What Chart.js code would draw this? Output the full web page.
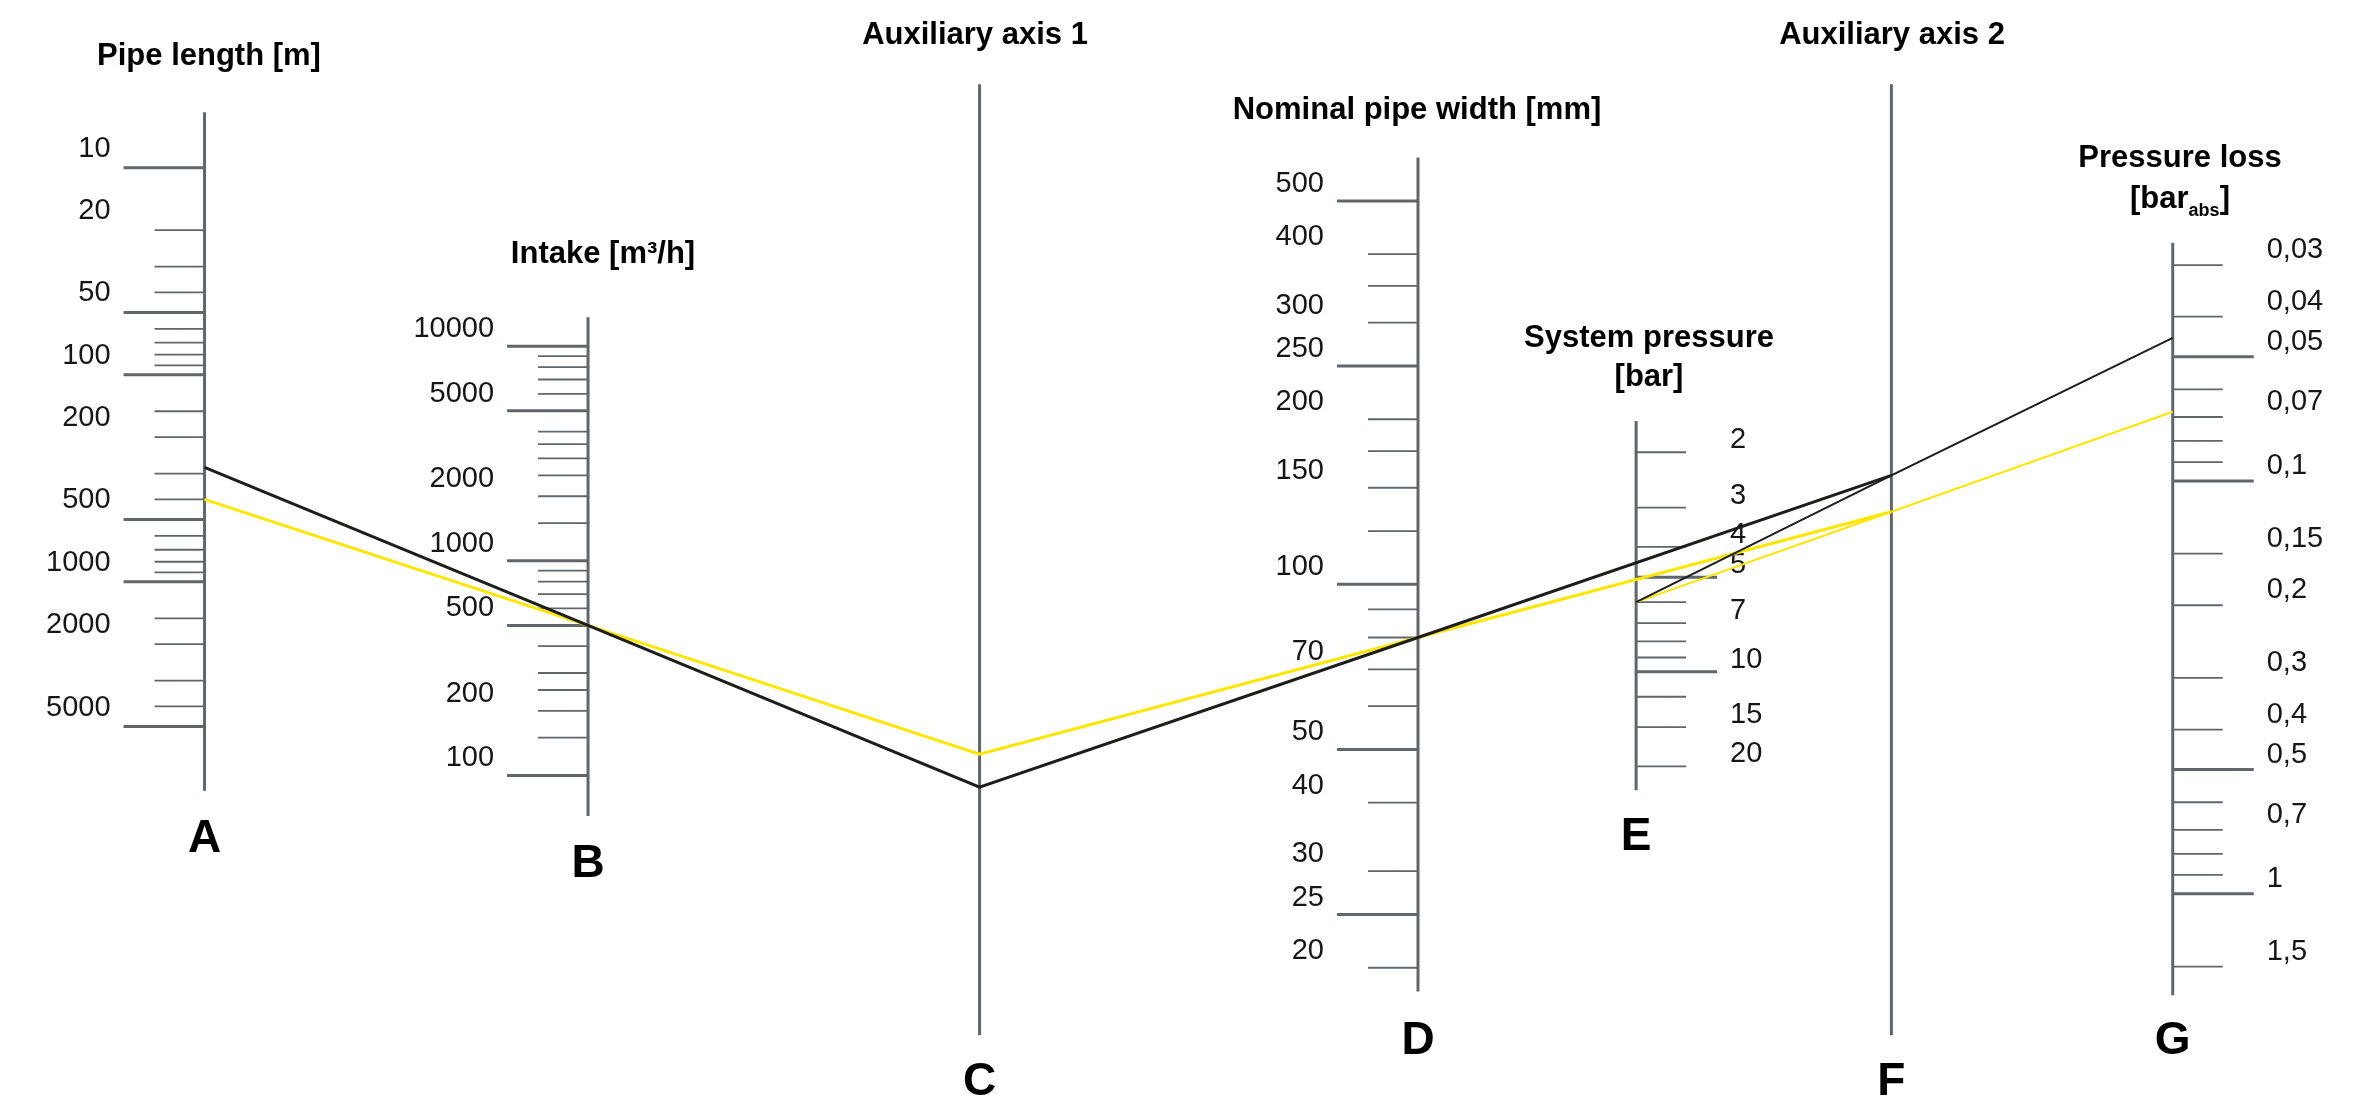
<!DOCTYPE html>
<html lang="en">
<head>
<meta charset="utf-8">
<title>Pipe sizing nomogram</title>
<script src="https://cdn.jsdelivr.net/npm/chart.js@4.4.1/dist/chart.umd.min.js"></script>
<style>
  html, body { margin: 0; padding: 0; background: #ffffff; }
  canvas { display: block; }
</style>
</head>
<body>
<canvas id="nomogram" width="2355" height="1105"></canvas>
<script>
// Nomogram for sizing a compressed air pipe. Every scale is a hidden Chart.js axis,
// the ticks and the two worked examples are all placed through those axes.

// ---- values ----

// A: pipe length [m]
const pipeLengthMajor = [10, 50, 100, 500, 1000, 5000];
const pipeLengthMinor = [20, 30, 40, 60, 70, 80, 90, 150, 200, 300, 400, 600, 700, 800, 900, 1500, 2000, 3000, 4000];
const pipeLengthLabels = [10, 20, 50, 100, 200, 500, 1000, 2000, 5000];

// B: intake [m3/h]
const intakeMajor = [100, 500, 1000, 5000, 10000];
const intakeMinor = [150, 200, 250, 300, 400, 600, 700, 800, 900, 1500, 2000, 2500, 3000, 3500, 4000, 6000, 7000, 8000, 9000];
const intakeLabels = [100, 200, 500, 1000, 2000, 5000, 10000];

// D: nominal pipe width [mm]
const widthMajor = [25, 50, 100, 250, 500];
const widthMinor = [20, 30, 40, 60, 70, 80, 90, 125, 150, 175, 200, 300, 350, 400];
const widthLabels = [20, 25, 30, 40, 50, 70, 100, 150, 200, 250, 300, 400, 500];

// E: system pressure [bar]
const pressureMajor = [5, 10];
const pressureMinor = [2, 3, 4, 6, 7, 8, 9, 12, 15, 20];
const pressureLabels = [2, 3, 4, 5, 7, 10, 15, 20];

// G: pressure loss [bar abs]
const lossMajor = [0.05, 0.1, 0.5, 1];
const lossMinor = [0.03, 0.04, 0.06, 0.07, 0.08, 0.09, 0.15, 0.2, 0.3, 0.4, 0.6, 0.7, 0.8, 0.9, 1.5];
const lossLabels = [0.03, 0.04, 0.05, 0.07, 0.1, 0.15, 0.2, 0.3, 0.4, 0.5, 0.7, 1, 1.5];

// worked examples, value where the line meets each axis
// (C and F carry no scale, their value is % of the drawing height from the top)
const mainRoute = ['A', 'B', 'C', 'D', 'F'];
const blackMain = [280, 500, 71.3, 80, 43.0];
const yellowMain = [400, 500, 68.3, 80, 46.3];

const pressureRoute = ['E', 'F', 'G'];
const blackPressure = [6, 43.0, 0.045];
const yellowPressure = [6, 46.3, 0.068];

const axisTitles = {
  A: ['Pipe length [m]'],
  B: ['Intake [m\u00b3/h]'],
  C: ['Auxiliary axis 1'],
  D: ['Nominal pipe width [mm]'],
  E: ['System pressure', '[bar]'],
  F: ['Auxiliary axis 2'],
  G: ['Pressure loss', '[bar_abs]']
};

const axisTicks = {
  A: { major: pipeLengthMajor, minor: pipeLengthMinor, labels: pipeLengthLabels },
  B: { major: intakeMajor, minor: intakeMinor, labels: intakeLabels },
  D: { major: widthMajor, minor: widthMinor, labels: widthLabels },
  E: { major: pressureMajor, minor: pressureMinor, labels: pressureLabels },
  G: { major: lossMajor, minor: lossMinor, labels: lossLabels }
};

// ---- layout ----

const W = 2355, H = 1105;
const AXIS_GREY = '#5f676c';
const TEXT = '#161616';
const LABEL_FONT = '29px "Liberation Sans", Arial, sans-serif';
const TITLE_FONT = 'bold 31px "Liberation Sans", Arial, sans-serif';
const SUB_FONT = 'bold 18px "Liberation Sans", Arial, sans-serif';
const LETTER_FONT = 'bold 46px "Liberation Sans", Arial, sans-serif';

// how each log scale sits on the sheet: one value, where it lands, px per decade
const scaleFit = {
  A: { anchor: 10, at: 166.7, perDecade: 207.6, reverse: true },
  B: { anchor: 10000, at: 345.7, perDecade: 215.15, reverse: false },
  D: { anchor: 500, at: 200, perDecade: 550, reverse: false },
  E: { anchor: 2, at: 452, perDecade: 315, reverse: true },
  G: { anchor: 0.03, at: 264.3, perDecade: 414, reverse: true }
};

const axisLayout = {
  A: { x: 203.3, side: -1, ends: [5.4, 10200], shift: -19, titleX: 209, titleY: [64.5], letterY: 851.5 },
  B: { x: 587.3, side: -1, ends: [13640, 64.7], shift: -17, titleX: 603, titleY: [262.5], letterY: 876.5 },
  C: { x: 979.3, side: 0, ends: [7.5, 93.8], titleX: 975, titleY: [43.5], letterY: 1094.5 },
  D: { x: 1418.3, side: -1, ends: [600, 18.1], shift: -17, titleX: 1417, titleY: [118.5], letterY: 1053.5 },
  E: { x: 1636.7, side: 1, ends: [1.59, 23.8], shift: -12, titleX: 1649, titleY: [346.5, 385.5], letterY: 850 },
  F: { x: 1892.3, side: 0, ends: [7.5, 93.8], titleX: 1892, titleY: [43.5], letterY: 1094.5 },
  G: { x: 2174, side: 1, ends: [0.0265, 1.76], shift: -15, titleX: 2180, titleY: [166.5, 207.5], letterY: 1053.5 }
};

const MAJOR_LEN = 81, MINOR_LEN = 50, LABEL_GAP = 94;

function logBounds(f) {
  const la = Math.log10(f.anchor);
  if (f.reverse) {
    const lmin = la - f.at / f.perDecade;
    return { min: Math.pow(10, lmin), max: Math.pow(10, lmin + H / f.perDecade) };
  }
  const lmax = la + f.at / f.perDecade;
  return { min: Math.pow(10, lmax - H / f.perDecade), max: Math.pow(10, lmax) };
}

const scales = {
  x: { type: 'linear', display: false, min: 0, max: W },
  // also used by the two auxiliary axes
  y: { type: 'linear', display: false, min: 0, max: 100, reverse: true }
};
for (const id in scaleFit) {
  const b = logBounds(scaleFit[id]);
  scales[id] = {
    type: 'logarithmic', axis: 'y', position: 'left', display: false,
    reverse: scaleFit[id].reverse, min: b.min, max: b.max
  };
}

function scaleId(id) {
  return scaleFit[id] ? id : 'y';
}

function fmt(id, v) {
  return id === 'G' ? String(v).replace('.', ',') : String(v);
}

function drawTitle(ctx, text, cx, y) {
  const m = text.match(/^(.*)_(\w+)(.*)$/);
  ctx.textBaseline = 'alphabetic';
  if (!m) {
    ctx.font = TITLE_FONT;
    ctx.textAlign = 'center';
    ctx.fillText(text, cx, y);
    return;
  }
  ctx.textAlign = 'left';
  ctx.font = TITLE_FONT;
  const w1 = ctx.measureText(m[1]).width;
  const w3 = ctx.measureText(m[3]).width;
  ctx.font = SUB_FONT;
  const w2 = ctx.measureText(m[2]).width;
  let x = cx - (w1 + w2 + w3) / 2;
  ctx.font = TITLE_FONT;
  ctx.fillText(m[1], x, y);
  ctx.font = SUB_FONT;
  ctx.fillText(m[2], x + w1, y + 8);
  ctx.font = TITLE_FONT;
  ctx.fillText(m[3], x + w1 + w2, y);
}

const nomogramAxes = {
  id: 'nomogramAxes',
  beforeDatasetsDraw(chart) {
    const ctx = chart.ctx;
    const xs = chart.scales.x;
    ctx.save();
    ctx.lineCap = 'butt';
    for (const id of Object.keys(axisLayout)) {
      const lay = axisLayout[id];
      const s = chart.scales[scaleId(id)];
      const px = xs.getPixelForValue(lay.x);

      ctx.strokeStyle = AXIS_GREY;
      ctx.lineWidth = 3;
      ctx.beginPath();
      ctx.moveTo(px, s.getPixelForValue(lay.ends[0]));
      ctx.lineTo(px, s.getPixelForValue(lay.ends[1]));
      ctx.stroke();

      const t = axisTicks[id];
      if (t) {
        ctx.lineWidth = 3;
        ctx.beginPath();
        for (const v of t.major) {
          const py = s.getPixelForValue(v);
          ctx.moveTo(px, py);
          ctx.lineTo(px + lay.side * MAJOR_LEN, py);
        }
        ctx.stroke();
        ctx.lineWidth = 1.8;
        ctx.beginPath();
        for (const v of t.minor) {
          const py = s.getPixelForValue(v);
          ctx.moveTo(px, py);
          ctx.lineTo(px + lay.side * MINOR_LEN, py);
        }
        ctx.stroke();

        ctx.fillStyle = TEXT;
        ctx.font = LABEL_FONT;
        ctx.textAlign = lay.side < 0 ? 'right' : 'left';
        ctx.textBaseline = 'middle';
        for (const v of t.labels) {
          ctx.fillText(fmt(id, v), px + lay.side * LABEL_GAP, s.getPixelForValue(v) + lay.shift);
        }
      }

      ctx.fillStyle = '#000000';
      axisTitles[id].forEach((line, i) => drawTitle(ctx, line, lay.titleX, lay.titleY[i]));

      ctx.font = LETTER_FONT;
      ctx.textAlign = 'center';
      ctx.textBaseline = 'alphabetic';
      ctx.fillText(id, px, lay.letterY);
    }
    ctx.restore();
  }
};

const lineStyle = (color, width) => ({
  data: [],
  borderColor: color,
  borderWidth: width,
  pointRadius: 0,
  fill: false,
  tension: 0
});

const chart = new Chart(document.getElementById('nomogram'), {
  type: 'line',
  data: {
    datasets: [
      Object.assign(lineStyle('#1d1d1b', 3), { label: 'Example 1' }),
      Object.assign(lineStyle('#1d1d1b', 2), { label: 'Example 1, pressure' }),
      Object.assign(lineStyle('#ffe600', 3), { label: 'Example 2' }),
      Object.assign(lineStyle('#ffe600', 2), { label: 'Example 2, pressure' })
    ]
  },
  options: {
    responsive: false,
    devicePixelRatio: 1,
    animation: false,
    events: [],
    layout: { padding: 0 },
    plugins: { legend: { display: false }, tooltip: { enabled: false }, title: { display: false } },
    scales: scales
  },
  plugins: [nomogramAxes]
});

// every crossing goes through its own axis, then onto the shared y scale
function route(ids, values) {
  const ys = chart.scales.y;
  return ids.map((id, i) => {
    const s = chart.scales[scaleId(id)];
    const y = s === ys ? values[i] : ys.getValueForPixel(s.getPixelForValue(values[i]));
    return { x: axisLayout[id].x, y: y };
  });
}

chart.data.datasets[0].data = route(mainRoute, blackMain);
chart.data.datasets[1].data = route(pressureRoute, blackPressure);
chart.data.datasets[2].data = route(mainRoute, yellowMain);
chart.data.datasets[3].data = route(pressureRoute, yellowPressure);
chart.update('none');
</script>
</body>
</html>
